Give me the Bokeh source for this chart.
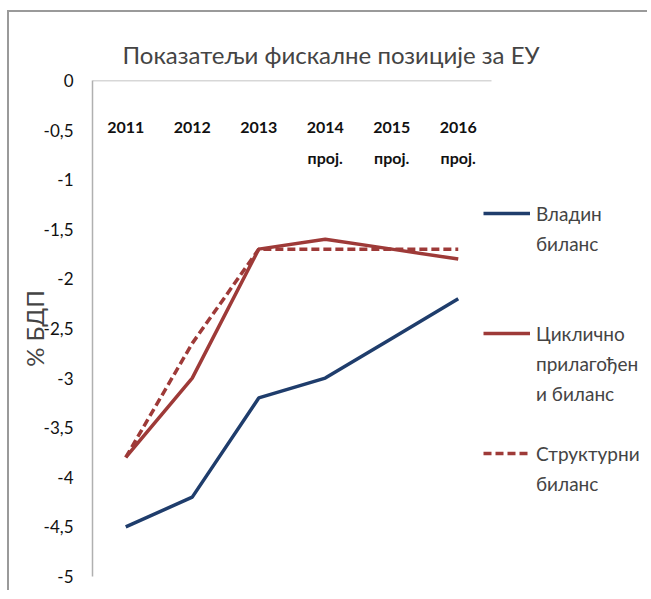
from bokeh.plotting import figure
from bokeh.models import (FactorRange, Range1d, FixedTicker, CustomJSTickFormatter,
                          Legend, LegendItem, ColumnDataSource)
from bokeh.core.properties import value
from bokeh.embed import file_html
from bokeh.resources import INLINE

# ---- data ----
years = ["2011", "2012", "2013", "2014", "2015", "2016"]
sub_labels = ["", "", "", "проj.", "проj.", "проj."]
vladin_bilans = [-4.5, -4.2, -3.2, -3.0, -2.6, -2.2]
ciklicno_bilans = [-3.8, -3.0, -1.7, -1.6, -1.7, -1.8]
strukturni_bilans = [-3.8, -2.65, -1.7, -1.7, -1.7, -1.7]
y_ticks = [0, -0.5, -1, -1.5, -2, -2.5, -3, -3.5, -4, -4.5, -5]
series_names = [["Владин", "биланс"], ["Циклично", "прилагођен", "и биланс"], ["Структурни", "биланс"]]
title_text = "Показатељи фискалне позиције за ЕУ"
y_label = "% БДП"

FONT = "Lato"
BLUE = "#1f3d6c"
RED = "#9e3a38"
AXIS_GRAY = "#b0b0b0"

# categorical positions: the six years form one group; a second (empty) group
# leaves room on the right for the legend, as in the original layout
xs = [("d", y) for y in years]
legend_space = ("p", " ")

src = ColumnDataSource(dict(x=xs, label=years, sub=sub_labels, v=vladin_bilans,
                            c=ciklicno_bilans, s=strukturni_bilans,
                            zero=[0] * len(years)))

p = figure(width=640, height=580,
           x_range=FactorRange(*xs, legend_space, range_padding=0, group_padding=1.376),
           y_range=Range1d(-5, 0), output_backend="svg", toolbar_location=None,
           min_border_left=83, min_border_top=68, min_border_right=0, min_border_bottom=16,
           margin=(10, 0, 0, 7))
p.styles = {"border-top": "2px solid #9a9a9a", "border-left": "2px solid #9a9a9a"}

p.title.text = title_text
p.title.text_font = FONT
p.title.text_font_size = "24px"
p.title.text_font_style = "normal"
p.title.align = "left"
p.title.offset = 30
p.title.standoff = 24

p.xgrid.visible = False
p.ygrid.visible = False
p.outline_line_color = None
p.xaxis.visible = False

yax = p.yaxis[0]
yax.ticker = FixedTicker(ticks=y_ticks)
yax.formatter = CustomJSTickFormatter(code="return tick.toString().replace('.', ',');")
yax.major_tick_line_color = None
yax.minor_tick_line_color = None
yax.axis_line_color = AXIS_GRAY
yax.axis_line_width = 1.5
yax.major_label_text_font = FONT
yax.major_label_text_font_size = "17px"
yax.major_label_text_color = "#111111"
yax.major_label_standoff = 13
yax.axis_label = y_label
yax.axis_label_text_font = FONT
yax.axis_label_text_font_size = "24px"
yax.axis_label_text_font_style = "normal"
yax.axis_label_standoff = -8

# horizontal category axis line at y = 0, spanning the year categories
p.segment(x0=[xs[0] + (-0.5,)], y0=[0], x1=[xs[-1] + (0.5,)], y1=[0],
          line_color=AXIS_GRAY, line_width=1.5)

# category labels inside plot
p.text(x="x", y="zero", text="label", source=src, text_font=value(FONT), text_font_size="16px",
       text_font_style="bold", text_align="center", text_baseline="middle", y_offset=47,
       text_color="#111111")
p.text(x="x", y="zero", text="sub", source=src, text_font=value(FONT), text_font_size="16px",
       text_font_style="bold", text_align="center", text_baseline="middle", y_offset=77,
       text_color="#111111")

r1 = p.line("x", "v", source=src, line_color=BLUE, line_width=3.5)
r2 = p.line("x", "c", source=src, line_color=RED, line_width=3.5)
r3 = p.line("x", "s", source=src, line_color=RED, line_width=3.5, line_dash="8 4")
blank = p.line("x", "s", source=src, line_alpha=0)

items = [
    LegendItem(label=series_names[0][0], renderers=[r1]),
    LegendItem(label=series_names[0][1], renderers=[blank]),
    LegendItem(label=" ", renderers=[blank]),
    LegendItem(label=" ", renderers=[blank]),
    LegendItem(label=series_names[1][0], renderers=[r2]),
    LegendItem(label=series_names[1][1], renderers=[blank]),
    LegendItem(label=series_names[1][2], renderers=[blank]),
    LegendItem(label=" ", renderers=[blank]),
    LegendItem(label=series_names[2][0], renderers=[r3]),
    LegendItem(label=series_names[2][1], renderers=[blank]),
]
legend = Legend(items=items, location=(391, 78), orientation="vertical",
                label_text_font=FONT, label_text_font_size="19px",
                glyph_width=47, glyph_height=14, label_height=30, label_standoff=6,
                spacing=0, padding=0, margin=0,
                border_line_color=None, background_fill_alpha=0)
p.add_layout(legend, "center")

open("out.html", "w").write(file_html(p, INLINE))
